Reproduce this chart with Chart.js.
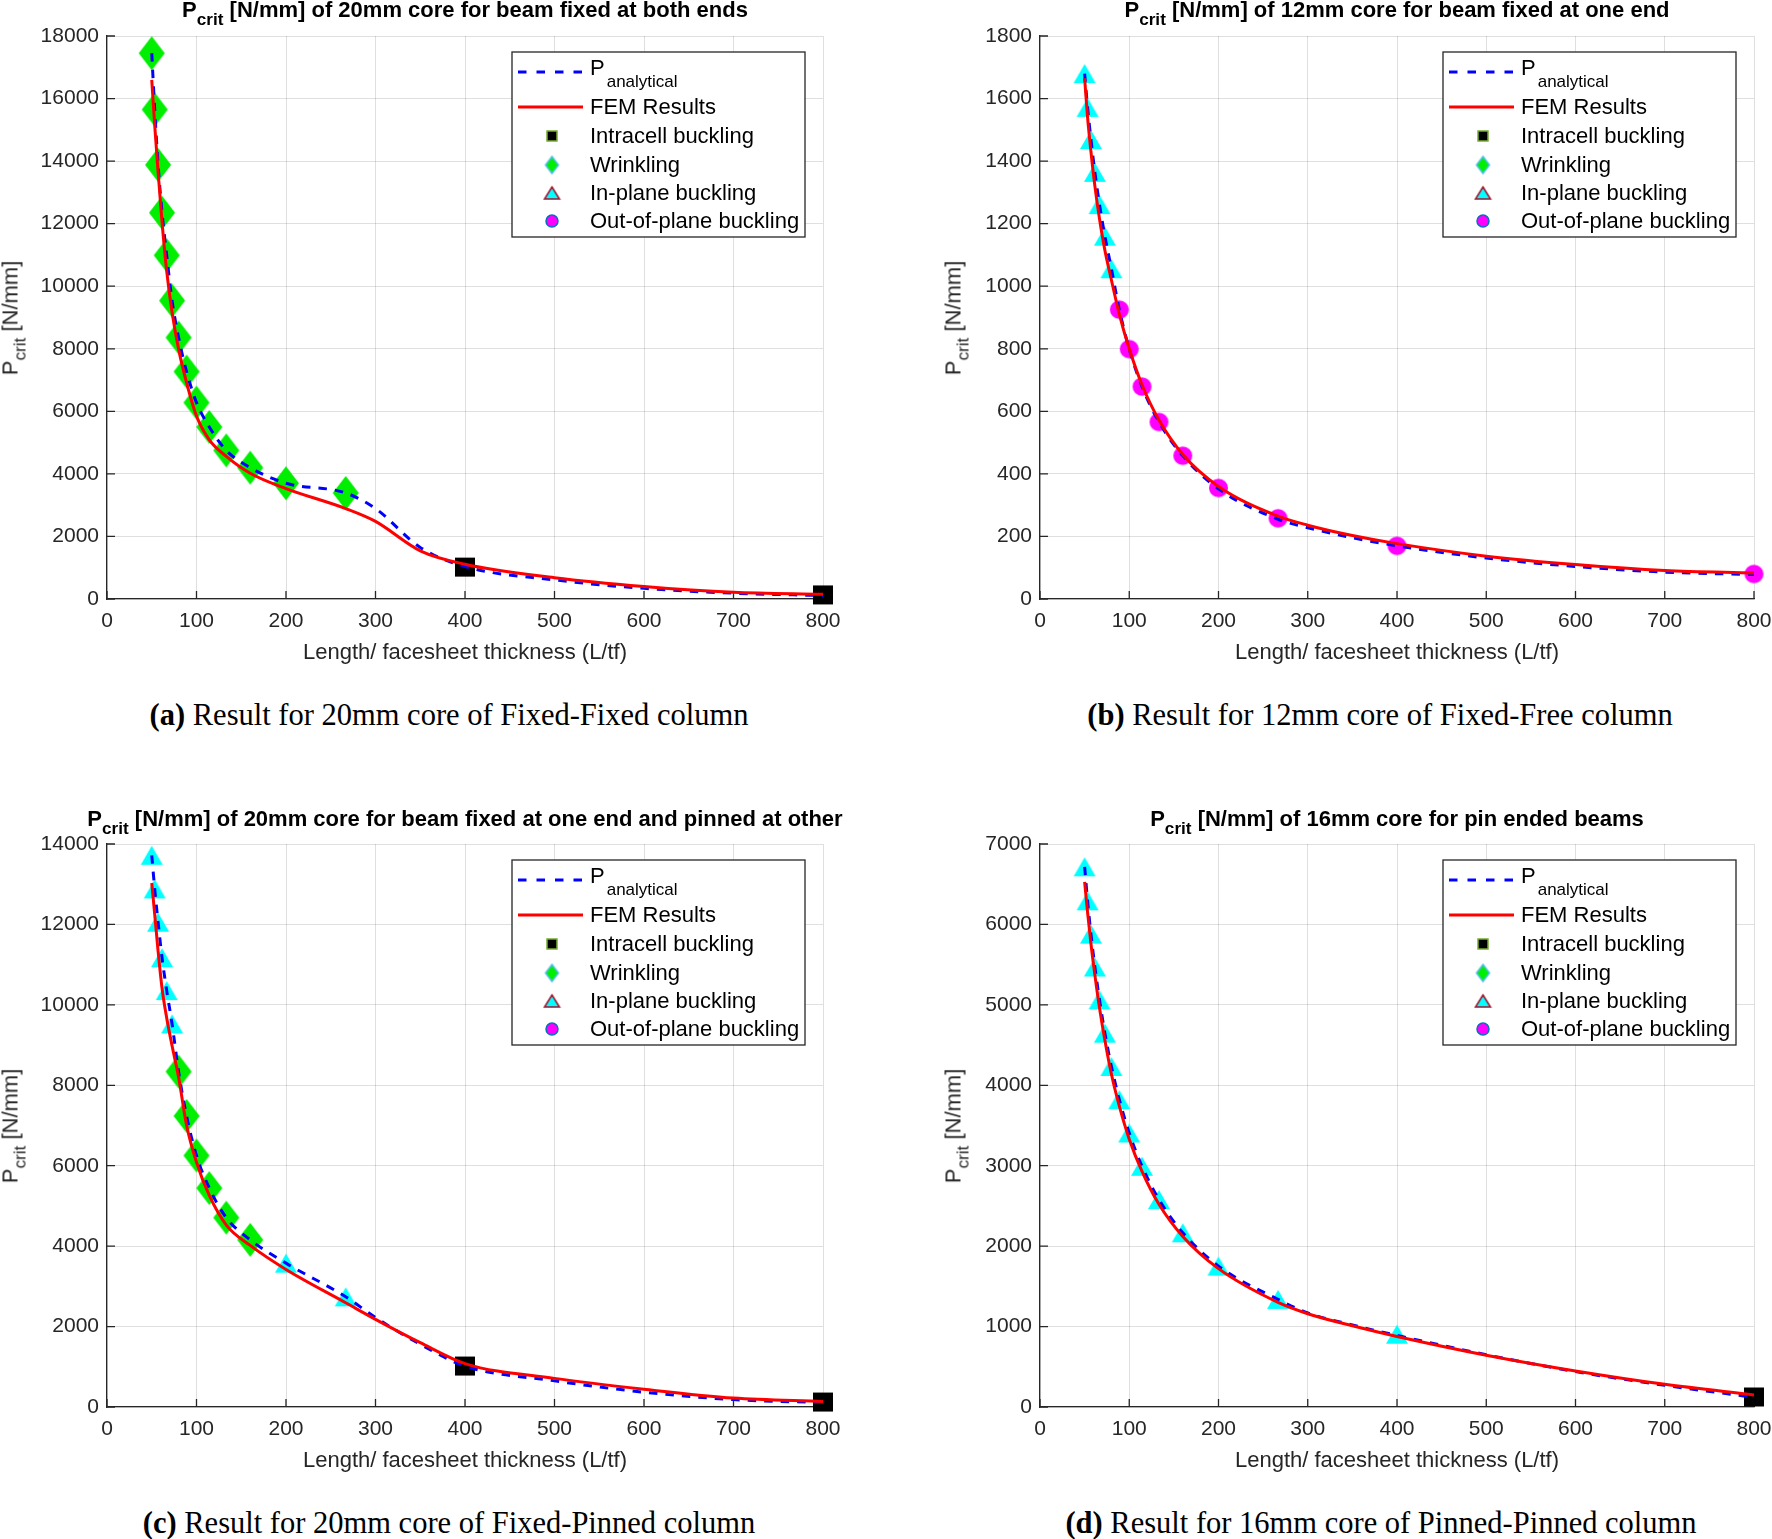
<!DOCTYPE html>
<html>
<head>
<meta charset="utf-8">
<script src="https://cdn.jsdelivr.net/npm/chart.js@4.4.1/dist/chart.umd.min.js"></script>
<style>
  html, body { margin: 0; padding: 0; background: #fff; }
  #page { position: relative; width: 1772px; height: 1539px; overflow: hidden; background: #fff;
          font-family: "Liberation Sans", Arial, Helvetica, sans-serif; color: #262626; }
  canvas { position: absolute; }
  .t { position: absolute; white-space: nowrap; font-size: 22px; line-height: 22px; transform: translateX(-50%); }
  .ttl { font-weight: bold; color: #000; }
  .sb { position: relative; top: 8px; font-size: 0.78em; }
  .yl { transform: translate(-50%, -50%) rotate(-90deg); }
  .cap { font-family: "Liberation Serif", "Times New Roman", serif; font-size: 30.5px; line-height: 30.5px; color: #000; }
</style>
</head>
<body>
<div id="page">
  <canvas id="ca" width="886" height="640" style="left:0px;top:0px"></canvas>
  <canvas id="cb" width="906" height="640" style="left:886px;top:0px"></canvas>
  <canvas id="cc" width="886" height="640" style="left:0px;top:808px"></canvas>
  <canvas id="cd" width="906" height="640" style="left:886px;top:808px"></canvas>

  <div class="t ttl" style="left:465px;top:-1px">P<span class="sb">crit</span> [N/mm] of 20mm core for beam fixed at both ends</div>
  <div class="t ttl" style="left:1397px;top:-1px">P<span class="sb">crit</span> [N/mm] of 12mm core for beam fixed at one end</div>
  <div class="t ttl" style="left:465px;top:808px">P<span class="sb">crit</span> [N/mm] of 20mm core for beam fixed at one end and pinned at other</div>
  <div class="t ttl" style="left:1397px;top:808px">P<span class="sb">crit</span> [N/mm] of 16mm core for pin ended beams</div>

  <div class="t" style="left:465px;top:641px">Length/ facesheet thickness (L/tf)</div>
  <div class="t" style="left:1397px;top:641px">Length/ facesheet thickness (L/tf)</div>
  <div class="t" style="left:465px;top:1449px">Length/ facesheet thickness (L/tf)</div>
  <div class="t" style="left:1397px;top:1449px">Length/ facesheet thickness (L/tf)</div>

  <div class="t yl" style="left:11px;top:318px">P<span class="sb">crit</span> [N/mm]</div>
  <div class="t yl" style="left:954px;top:318px">P<span class="sb">crit</span> [N/mm]</div>
  <div class="t yl" style="left:11px;top:1126px">P<span class="sb">crit</span> [N/mm]</div>
  <div class="t yl" style="left:954px;top:1126px">P<span class="sb">crit</span> [N/mm]</div>

  <div class="t cap" style="left:449px;top:700px"><b>(a)</b> Result for 20mm core of Fixed-Fixed column</div>
  <div class="t cap" style="left:1380px;top:700px"><b>(b)</b> Result for 12mm core of Fixed-Free column</div>
  <div class="t cap" style="left:449px;top:1508px"><b>(c)</b> Result for 20mm core of Fixed-Pinned column</div>
  <div class="t cap" style="left:1381px;top:1508px"><b>(d)</b> Result for 16mm core of Pinned-Pinned column</div>
</div>

<script>
// L/tf positions of the markers and of the read curve points
const xMarks = [50, 53.3, 57.1, 61.5, 66.7, 72.7, 80, 88.9, 100, 114.3, 133.3, 160, 200, 266.7, 400, 800];
const xLine  = [50, 53.3, 57.1, 61.5, 66.7, 72.7, 80, 88.9, 100, 114.3, 133.3, 160, 200, 266.7, 300, 350, 400, 500, 600, 700, 800];
const xTicks = [0, 100, 200, 300, 400, 500, 600, 700, 800];

// marker mode: I = intracell, W = wrinkling, T = in-plane, O = out-of-plane
// (a) fixed-fixed, 20mm core
const yTicksA = [0, 2000, 4000, 6000, 8000, 10000, 12000, 14000, 16000, 18000];
const markA = [17450, 15650, 13880, 12350, 10990, 9540, 8360, 7270, 6280, 5500, 4750, 4200, 3700, 3390, 1020, 130];
const modeA = ['W','W','W','W','W','W','W','W','W','W','W','W','W','W','I','I'];
const analA = [17450, 15650, 13880, 12350, 10990, 9540, 8360, 7270, 6280, 5500, 4750, 4200, 3700, 3390, 2890, 1650, 1040, 610, 340, 185, 110];
const femA  = [16600, 15150, 13650, 12050, 10480, 9170, 7990, 6920, 5850, 5090, 4560, 4020, 3530, 2890, 2480, 1540, 1110, 680, 400, 215, 150];

// (b) fixed-free, 12mm core
const yTicksB = [0, 200, 400, 600, 800, 1000, 1200, 1400, 1600, 1800];
const markB = [1680, 1572, 1469, 1364, 1261, 1160, 1056, 925, 799, 679, 566, 458, 355, 258, 170, 80];
const modeB = ['T','T','T','T','T','T','T','O','O','O','O','O','O','O','O','O'];
const analB = [1680, 1572, 1469, 1364, 1261, 1160, 1056, 925, 799, 679, 566, 458, 352, 255, 228, 196, 170, 131, 104, 86, 78];
const femB  = [1665, 1540, 1430, 1320, 1215, 1115, 1020, 910, 800, 685, 572, 462, 360, 265, 236, 203, 177, 137, 110, 91, 83];

// (c) fixed-pinned, 20mm core
const yTicksC = [0, 2000, 4000, 6000, 8000, 10000, 12000, 14000];
const markC = [13720, 12883, 12055, 11172, 10354, 9526, 8340, 7237, 6253, 5444, 4708, 4156, 3577, 2740, 1018, 123];
const modeC = ['T','T','T','T','T','T','W','W','W','W','W','W','T','T','I','I'];
const analC = [13720, 12883, 12055, 11172, 10354, 9526, 8340, 7237, 6253, 5444, 4708, 4156, 3577, 2740, 2225, 1560, 1018, 650, 368, 184, 110];
const femC  = [13030, 12250, 11330, 10410, 9674, 8984, 8200, 7007, 6087, 5260, 4524, 4018, 3420, 2593, 2180, 1600, 1080, 712, 442, 221, 135];

// (d) pinned-pinned, 16mm core
const yTicksD = [0, 1000, 2000, 3000, 4000, 5000, 6000, 7000];
const markD = [6717, 6294, 5880, 5471, 5062, 4648, 4234, 3821, 3407, 2993, 2579, 2166, 1752, 1338, 905, 125];
const modeD = ['T','T','T','T','T','T','T','T','T','T','T','T','T','T','T','I'];
const analD = [6717, 6294, 5880, 5471, 5062, 4648, 4234, 3821, 3407, 2993, 2579, 2166, 1752, 1338, 1170, 1020, 890, 650, 440, 270, 120];
const femD  = [6530, 6150, 5760, 5370, 4960, 4560, 4140, 3740, 3330, 2930, 2520, 2120, 1720, 1300, 1160, 1010, 877, 644, 448, 282, 150];

const legendNames = ['P', 'FEM Results', 'Intracell buckling', 'Wrinkling', 'In-plane buckling', 'Out-of-plane buckling'];
const legendSub = 'analytical';

Chart.defaults.font.family = '"Liberation Sans", Arial, Helvetica, sans-serif';
Chart.defaults.color = '#262626';

// marker glyphs drawn once into small canvases
function glyph(kind, w, h, fill, edge, lw) {
  const pad = 2;
  const c = document.createElement('canvas');
  c.width = Math.ceil(w + pad * 2);
  c.height = Math.ceil(h + pad * 2);
  const g = c.getContext('2d');
  const cx = c.width / 2, cy = c.height / 2;
  g.beginPath();
  if (kind === 'I') {
    g.rect(cx - w / 2, cy - h / 2, w, h);
  } else if (kind === 'W') {
    g.moveTo(cx, cy - h / 2); g.lineTo(cx + w / 2, cy); g.lineTo(cx, cy + h / 2); g.lineTo(cx - w / 2, cy); g.closePath();
  } else if (kind === 'T') {
    g.moveTo(cx, cy - h / 2); g.lineTo(cx + w / 2, cy + h / 2); g.lineTo(cx - w / 2, cy + h / 2); g.closePath();
  } else {
    g.ellipse(cx, cy, w / 2, h / 2, 0, 0, Math.PI * 2);
  }
  g.fillStyle = fill;
  g.fill();
  if (edge) { g.strokeStyle = edge; g.lineWidth = lw; g.stroke(); }
  return c;
}

const plotGlyph = {
  I: glyph('I', 20, 19, '#000000'),
  W: glyph('W', 26, 34, '#00ee00'),
  T: glyph('T', 22, 19, '#00ffff'),
  O: glyph('O', 19, 18.5, '#ff00ff')
};
const legGlyph = {
  I: glyph('I', 10, 10, '#000000', '#77ac30', 1.5),
  W: glyph('W', 13, 17, '#00ee00', '#4dbeee', 1.5),
  T: glyph('T', 15, 12, '#00ffff', '#a2142f', 1.5),
  O: glyph('O', 12, 12, '#ff00ff', '#0072bd', 1.5)
};

// MATLAB style ticks pointing into the axes
const inTicks = {
  id: 'inTicks',
  beforeDatasetsDraw(chart) {
    const ctx = chart.ctx, a = chart.chartArea;
    const xs = chart.scales.x, ys = chart.scales.y;
    ctx.save();
    ctx.strokeStyle = '#262626';
    ctx.lineWidth = 1.3;
    ctx.beginPath();
    xs.ticks.forEach(t => {
      const px = xs.getPixelForValue(t.value);
      ctx.moveTo(px, a.bottom); ctx.lineTo(px, a.bottom - 8);
    });
    ys.ticks.forEach(t => {
      const py = ys.getPixelForValue(t.value);
      ctx.moveTo(a.left, py); ctx.lineTo(a.left + 8, py);
    });
    ctx.stroke();
    ctx.restore();
  }
};

// boxed legend in the upper right corner of the axes
const boxLegend = {
  id: 'boxLegend',
  afterDraw(chart) {
    const ctx = chart.ctx, a = chart.chartArea;
    const w = 293, h = 185;
    const x0 = a.right - 18 - w, y0 = a.top + 16;
    const rows = [20, 55, 84, 113, 141, 169];
    ctx.save();
    ctx.fillStyle = '#ffffff';
    ctx.fillRect(x0, y0, w, h);
    ctx.strokeStyle = '#262626';
    ctx.lineWidth = 1.3;
    ctx.strokeRect(x0, y0, w, h);

    // line samples
    ctx.lineWidth = 3;
    ctx.strokeStyle = '#0000ff';
    ctx.setLineDash([8.5, 10]);
    ctx.beginPath(); ctx.moveTo(x0 + 6, y0 + rows[0]); ctx.lineTo(x0 + 71, y0 + rows[0]); ctx.stroke();
    ctx.setLineDash([]);
    ctx.strokeStyle = '#ff0000';
    ctx.beginPath(); ctx.moveTo(x0 + 6, y0 + rows[1]); ctx.lineTo(x0 + 71, y0 + rows[1]); ctx.stroke();

    // marker samples
    ['I', 'W', 'T', 'O'].forEach((k, i) => {
      const gl = legGlyph[k];
      ctx.drawImage(gl, x0 + 40 - gl.width / 2, y0 + rows[i + 2] - gl.height / 2);
    });

    // labels
    ctx.fillStyle = '#000000';
    ctx.textBaseline = 'middle';
    ctx.textAlign = 'left';
    ctx.font = '22px "Liberation Sans", Arial, sans-serif';
    ctx.fillText(legendNames[0], x0 + 78, y0 + 17);
    const pw = ctx.measureText(legendNames[0]).width;
    for (let i = 1; i < legendNames.length; i++) {
      ctx.fillText(legendNames[i], x0 + 78, y0 + rows[i] + 1);
    }
    ctx.font = '17px "Liberation Sans", Arial, sans-serif';
    ctx.fillText(legendSub, x0 + 78 + pw + 2, y0 + 30);
    ctx.restore();
  }
};

const panels = [
  { id: 'ca', axisW: 107, padR: 63, yMax: 18000, yTicks: yTicksA, mark: markA, mode: modeA, anal: analA, fem: femA },
  { id: 'cb', axisW: 154, padR: 38, yMax: 1800,  yTicks: yTicksB, mark: markB, mode: modeB, anal: analB, fem: femB },
  { id: 'cc', axisW: 107, padR: 63, yMax: 14000, yTicks: yTicksC, mark: markC, mode: modeC, anal: analC, fem: femC },
  { id: 'cd', axisW: 154, padR: 38, yMax: 7000,  yTicks: yTicksD, mark: markD, mode: modeD, anal: analD, fem: femD }
];

panels.forEach(p => {
  const gridOpts = { color: 'rgba(38,38,38,0.15)', lineWidth: 1, drawTicks: false };
  const borderOpts = { color: '#262626', width: 1.3 };
  new Chart(document.getElementById(p.id), {
    type: 'line',
    data: {
      datasets: [
        {
          label: 'FEM Results',
          data: xLine.map((x, i) => ({ x: x, y: p.fem[i] })),
          borderColor: '#ff0000',
          borderWidth: 3,
          pointRadius: 0,
          cubicInterpolationMode: 'monotone',
          order: 0
        },
        {
          label: 'P analytical',
          data: xLine.map((x, i) => ({ x: x, y: p.anal[i] })),
          borderColor: '#0000ff',
          borderWidth: 3,
          borderDash: [8.5, 8],
          pointRadius: 0,
          cubicInterpolationMode: 'monotone',
          order: 1
        },
        {
          label: 'modes',
          data: xMarks.map((x, i) => ({ x: x, y: p.mark[i] })),
          showLine: false,
          pointStyle: p.mode.map(m => plotGlyph[m]),
          pointRadius: 10,
          pointBorderWidth: 0,
          clip: false,
          order: 2
        }
      ]
    },
    options: {
      responsive: false,
      animation: false,
      events: [],
      layout: { autoPadding: false, padding: { left: 0, right: p.padR, top: 36, bottom: 0 } },
      plugins: { legend: { display: false }, tooltip: { enabled: false }, title: { display: false } },
      scales: {
        x: {
          type: 'linear', min: 0, max: 800,
          afterBuildTicks: s => { s.ticks = xTicks.map(v => ({ value: v })); },
          afterFit: s => { s.height = 41; },
          grid: gridOpts,
          border: borderOpts,
          ticks: { color: '#262626', font: { size: 21 }, padding: 10, autoSkip: false, maxRotation: 0,
                   callback: v => String(v) }
        },
        y: {
          type: 'linear', min: 0, max: p.yMax,
          afterBuildTicks: s => { s.ticks = p.yTicks.map(v => ({ value: v })); },
          afterFit: s => { s.width = p.axisW; },
          grid: gridOpts,
          border: borderOpts,
          ticks: { color: '#262626', font: { size: 21 }, padding: 8, autoSkip: false,
                   callback: v => String(v) }
        }
      }
    },
    plugins: [inTicks, boxLegend]
  });
});
</script>
</body>
</html>
